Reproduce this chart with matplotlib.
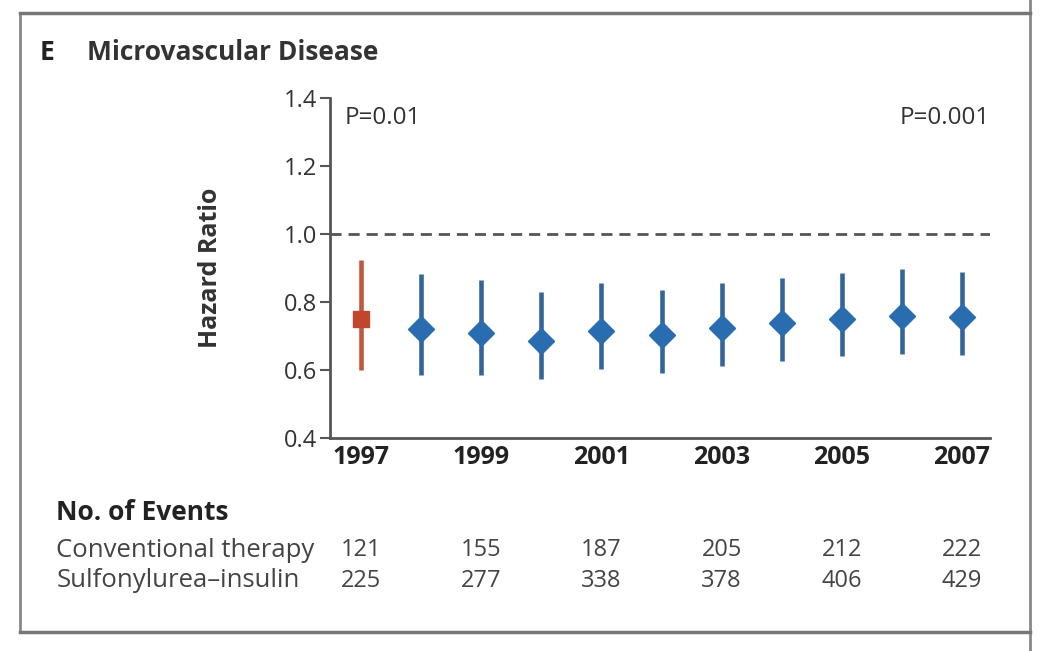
import matplotlib.pyplot as plt

plt.rcParams['font.family'] = ['Open Sans', 'DejaVu Sans']

years = [1997, 1998, 1999, 2000, 2001, 2002, 2003, 2004, 2005, 2006, 2007]
hazard = [0.75, 0.72, 0.71, 0.686, 0.716, 0.703, 0.723, 0.737, 0.749, 0.759, 0.757]
ci_low = [0.60, 0.585, 0.585, 0.574, 0.602, 0.592, 0.612, 0.625, 0.64, 0.647, 0.644]
ci_high = [0.924, 0.882, 0.865, 0.83, 0.855, 0.835, 0.855, 0.87, 0.884, 0.896, 0.889]

table_years = [1997, 1999, 2001, 2003, 2005, 2007]
conventional = [121, 155, 187, 205, 212, 222]
sulfonylurea = [225, 277, 338, 378, 406, 429]

blue = '#2a6cb0'
blue_bar = '#33659a'
red = '#c0462e'
grey = '#555555'

fig = plt.figure(figsize=(10.46, 6.51), dpi=100)
ax = fig.add_axes([0.3155, 0.3272, 0.631, 0.5223])

# panel frame
fig.add_artist(plt.Line2D([0.019, 0.019], [0.03, 0.98], color='#888888', lw=2))
fig.add_artist(plt.Line2D([0.985, 0.985], [0.0, 1.0], color='#888888', lw=2))
fig.add_artist(plt.Line2D([0.019, 0.985], [0.98, 0.98], color='#777777', lw=2.5))
fig.add_artist(plt.Line2D([0.019, 0.985], [0.029, 0.029], color='#777777', lw=2.5))

ax.axhline(1.0, color=grey, lw=2, ls=(0, (4, 2.5)))

for i, yr in enumerate(years):
    c = red if i == 0 else blue
    cb = '#c0573f' if i == 0 else blue_bar
    ax.plot([yr, yr], [ci_low[i], ci_high[i]], color=cb, lw=3.3, solid_capstyle='butt')
    if i == 0:
        ax.plot(yr, hazard[i], marker='s', ms=12, color=c, mec=c)
    else:
        ax.plot(yr, hazard[i], marker='D', ms=13, color=c, mec=c)

ax.set_xlim(1996.48, 2007.47)
ax.set_ylim(0.4, 1.4)
ax.set_yticks([0.4, 0.6, 0.8, 1.0, 1.2, 1.4])
ax.set_yticklabels(['0.4', '0.6', '0.8', '1.0', '1.2', '1.4'])
ax.set_xticks(table_years)
ax.set_xticklabels([str(y) for y in table_years], fontweight='bold')
ax.tick_params(axis='y', length=7, width=1.5, color=grey, labelsize=17, labelcolor='#333333', pad=2)
ax.tick_params(axis='x', length=0, labelsize=18, labelcolor='#222222', pad=5)
for s in ['top', 'right']:
    ax.spines[s].set_visible(False)
for s in ['left', 'bottom']:
    ax.spines[s].set_color(grey)
    ax.spines[s].set_linewidth(2)

ax.set_ylabel('Hazard Ratio', fontsize=18, fontweight='bold', color='#333333', labelpad=44)
ax.text(0.022, 0.94, 'P=0.01', transform=ax.transAxes, fontsize=17.5, color='#333333', va='center')
ax.text(1.0, 0.94, 'P=0.001', transform=ax.transAxes, fontsize=17.5, color='#333333', va='center', ha='right')

fig.text(0.038, 0.92, 'E', fontsize=19, fontweight='bold', color='#222222', va='center')
fig.text(0.083, 0.92, 'Microvascular Disease', fontsize=19, fontweight='bold', color='#333333', va='center')

fig.text(0.054, 0.212, 'No. of Events', fontsize=19, fontweight='bold', color='#222222', va='center')
fig.text(0.054, 0.155, 'Conventional therapy', fontsize=18.5, color='#444444', va='center')
fig.text(0.054, 0.108, 'Sulfonylurea\u2013insulin', fontsize=18.5, color='#444444', va='center')
for yr, a, b in zip(table_years, conventional, sulfonylurea):
    x_fig = fig.transFigure.inverted().transform(ax.transData.transform((yr, 0)))[0]
    fig.text(x_fig, 0.155, str(a), fontsize=17, color='#444444', va='center', ha='center')
    fig.text(x_fig, 0.108, str(b), fontsize=17, color='#444444', va='center', ha='center')

fig.savefig('out.png', dpi=100, facecolor='white')
